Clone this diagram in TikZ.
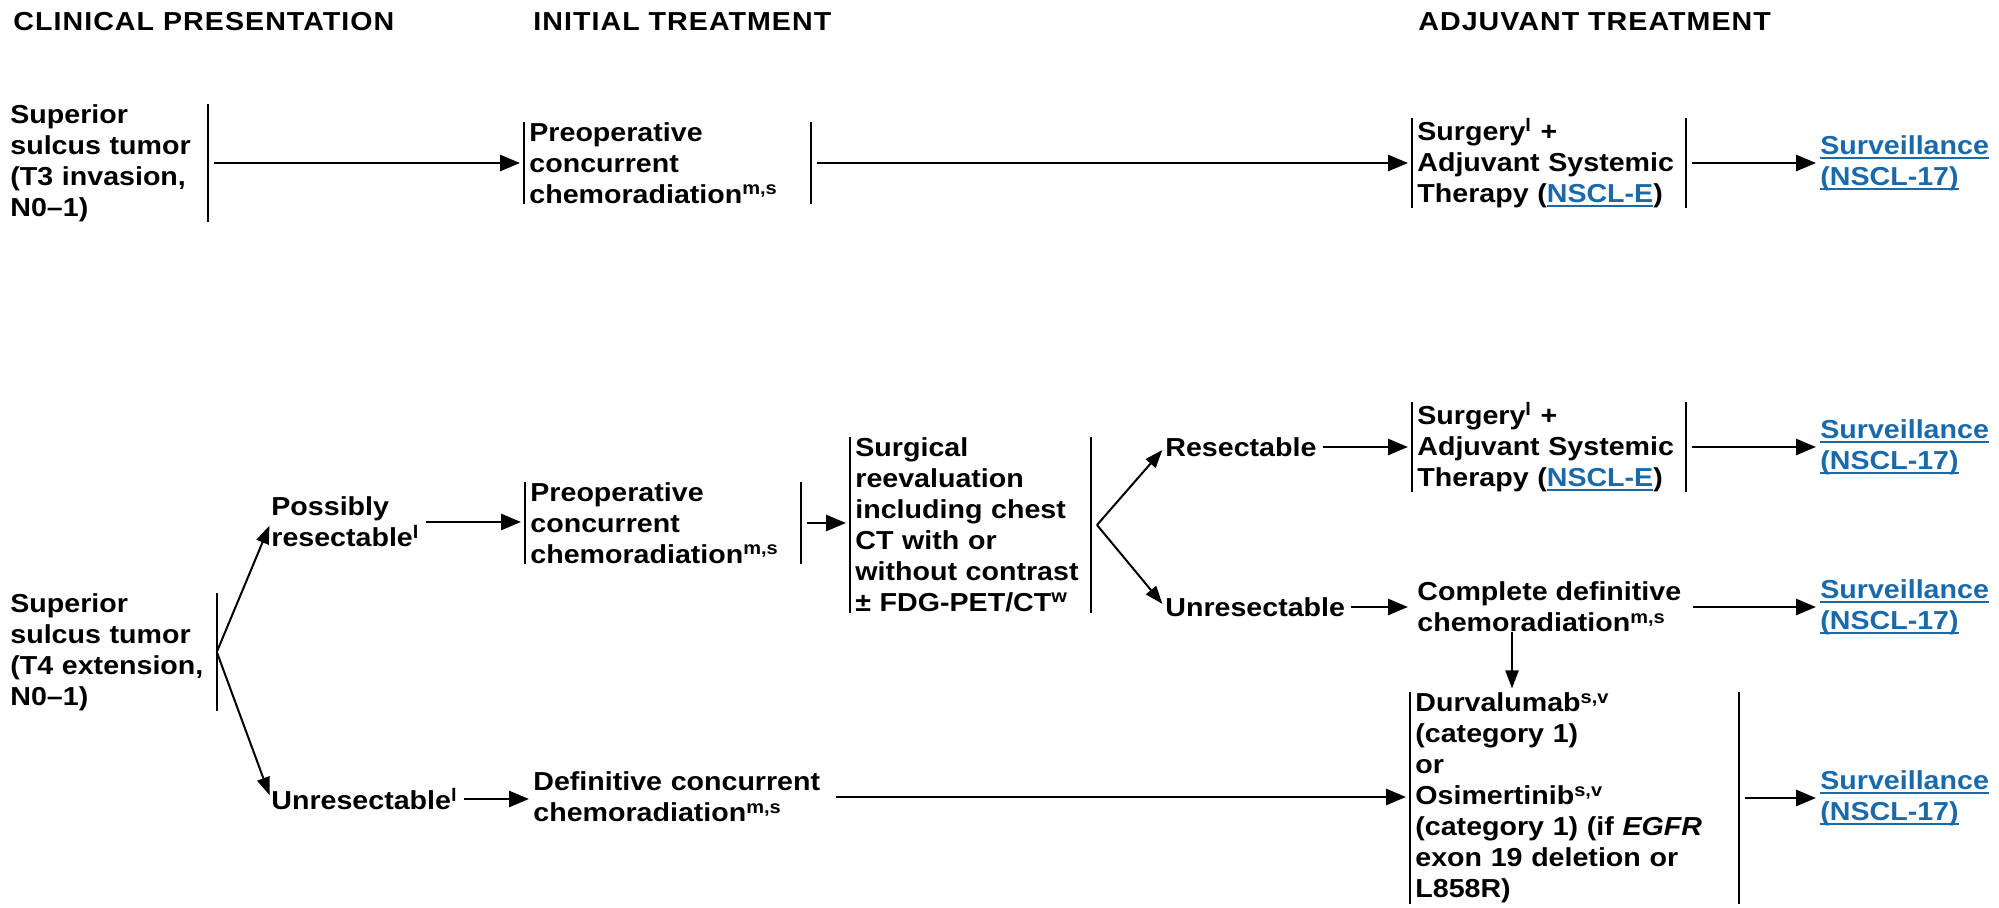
\documentclass[tikz,border=0pt]{standalone}
\usepackage{fontspec}
\setmainfont{Liberation Sans}[FakeStretch=1.1]
\newfontfamily\headfont{Liberation Sans}[FakeStretch=1.1,LetterSpace=4]
\usetikzlibrary{arrows.meta}
\definecolor{nccnblue}{HTML}{1A6AAB}
\newcommand{\lnk}[1]{\textcolor{nccnblue}{\setbox0\hbox{#1}\rlap{\rule[-2.2pt]{\wd0}{0.9pt}}\box0}}

\begin{document}
\begin{tikzpicture}[x=0.5pt,y=-0.5pt,
  every node/.style={inner sep=0pt,align=left,font=\bfseries\fontsize{13}{15.5}\selectfont},
  head/.style={anchor=west,font=\headfont\bfseries\fontsize{13}{15.5}\selectfont},
  box/.style={inner xsep=2.5pt,anchor=west},
  arr/.style={-{Triangle[length=10pt,width=8pt]},line width=1.4pt,shorten <=3pt,shorten >=2pt},
  thin/.style={-{Triangle[length=9pt,width=6.5pt]},line width=1pt,shorten >=2pt},
  bar/.style={line width=1pt}]
\useasboundingbox (0,0) rectangle (1999,908);
% headings
\node[head](h1) at (13,22){CLINICAL PRESENTATION};
\node[head](h2) at (533,22){INITIAL TREATMENT};
\node[head](h3) at (1418,22){ADJUVANT TREATMENT};
% T3
\node[anchor=west,text width=98.5pt](t3) at (10,163){Superior\\sulcus tumor\\(T3 invasion,\\N0--1)};
\node[box,text width=138pt](pre1) at (524,163){Preoperative\\concurrent\\chemoradiation\textsuperscript{m,s}};
\node[box,text width=131.5pt](surg1) at (1412,163){Surgery\textsuperscript{l} +\\Adjuvant Systemic\\Therapy (\lnk{NSCL-E})};
\node[anchor=west](sv1) at (1820,163){\lnk{Surveillance}\\\lnk{(NSCL-17)}};
% T4
\node[anchor=west,text width=103pt](t4) at (10,652){Superior\\sulcus tumor\\(T4 extension,\\N0--1)};
\node[anchor=west](poss) at (271,522){Possibly\\resectable\textsuperscript{l}};
\node[anchor=west](unr) at (271,799){Unresectable\textsuperscript{l}};
\node[box,text width=132.5pt](pre2) at (525,523){Preoperative\\concurrent\\chemoradiation\textsuperscript{m,s}};
\node[anchor=west,text width=148pt](defc) at (533,797){Definitive concurrent\\chemoradiation\textsuperscript{m,s}};
\node[box,text width=115pt](reev) at (850,525){Surgical\\reevaluation\\including chest\\CT with or\\without contrast\\± FDG-PET/CT\textsuperscript{w}};
\coordinate (fork) at (1097,525);
\node[anchor=west](res) at (1165,447){Resectable};
\node[anchor=west](unres) at (1165,607){Unresectable};
\node[box,text width=131.5pt](surg2) at (1412,447){Surgery\textsuperscript{l} +\\Adjuvant Systemic\\Therapy (\lnk{NSCL-E})};
\node[box](cdef) at (1412,607){Complete definitive\\chemoradiation\textsuperscript{m,s}};
\node[box,text width=159pt](durv) at (1410,798){Durvalumab\textsuperscript{s,v}\\(category 1)\\or\\Osimertinib\textsuperscript{s,v}\\(category 1) (if \textit{EGFR}\\exon 19 deletion or\\L858R)};
\node[anchor=west](sv2) at (1820,447){\lnk{Surveillance}\\\lnk{(NSCL-17)}};
\node[anchor=west](sv3) at (1820,607){\lnk{Surveillance}\\\lnk{(NSCL-17)}};
\node[anchor=west](sv4) at (1820,798){\lnk{Surveillance}\\\lnk{(NSCL-17)}};
% bars
\draw[bar] (t3.north east) -- (t3.south east);
\draw[bar] (t4.north east) -- (t4.south east);
\foreach \b in {pre1,surg1,pre2,reev,surg2,durv}
  \draw[bar] (\b.north west) -- (\b.south west) (\b.north east) -- (\b.south east);
% arrows
\draw[arr] (t3.east) -- (pre1.west);
\draw[arr] (pre1.east) -- (surg1.west);
\draw[arr] (surg1.east) -- (sv1.west);
\draw[thin] (t4.east) -- (poss.west);
\draw[thin] (t4.east) -- (unr.west);
\draw[arr] (poss.east) -- (poss.east -| pre2.west);
\draw[arr] (unr.east) -- (unr.east -| defc.west);
\draw[arr] (pre2.east) -- (pre2.east -| reev.west);
\draw[thin] (fork) -- (res.west);
\draw[thin] (fork) -- (unres.west);
\draw[arr] (res.east) -- (res.east -| surg2.west);
\draw[arr] (surg2.east) -- (sv2.west);
\draw[arr] (unres.east) -- (unres.east -| cdef.west);
\draw[arr] (cdef.east) -- (cdef.east -| sv3.west);
\draw[thin] ([xshift=50pt]cdef.south west) -- ([xshift=50pt]cdef.south west |- durv.north);
\draw[arr] (defc.east) -- (defc.east -| durv.west);
\draw[arr] (durv.east) -- (durv.east -| sv4.west);
\end{tikzpicture}
\end{document}
